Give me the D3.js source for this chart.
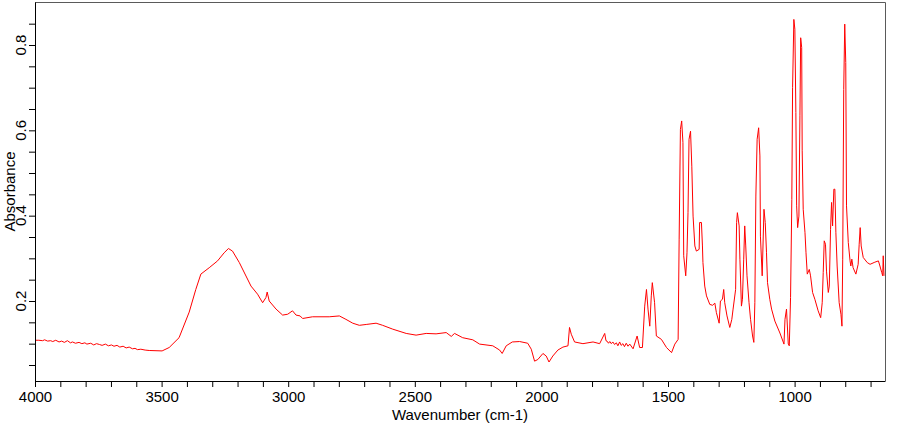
<!DOCTYPE html>
<html>
<head>
<meta charset="utf-8">
<script src="https://cdn.jsdelivr.net/npm/d3@7"></script>
<style>
  body { margin: 0; background: #fff; }
  text { font-family: Arial, "Liberation Sans", sans-serif; }
</style>
</head>
<body>
<svg id="chart" width="900" height="425"></svg>
<script>
// spectrum, split by region (wavenumber cm-1 / absorbance)
var wnBase = [4000, 3985, 3970, 3962, 3950, 3938, 3930, 3918, 3905, 3895, 3884, 3872, 3860, 3852, 3840, 3826, 3815, 3803, 3795, 3780, 3768, 3757, 3745, 3735, 3722, 3710, 3698, 3688, 3676, 3665, 3652, 3640, 3628, 3615, 3605, 3595, 3582, 3565, 3549];
var absBase = [0.108, 0.108, 0.107, 0.109, 0.106, 0.107, 0.105, 0.108, 0.104, 0.106, 0.103, 0.107, 0.102, 0.104, 0.101, 0.103, 0.100, 0.102, 0.099, 0.101, 0.097, 0.100, 0.098, 0.096, 0.099, 0.095, 0.097, 0.094, 0.096, 0.092, 0.094, 0.090, 0.092, 0.088, 0.089, 0.086, 0.087, 0.085, 0.084];

var wnOH = [3498, 3470, 3431, 3391, 3365, 3345, 3312, 3279, 3253, 3236, 3220, 3193, 3147, 3121, 3101, 3088, 3083, 3075, 3048, 3022, 3002, 2983, 2969, 2953, 2943, 2904, 2838];
var absOH = [0.083, 0.091, 0.114, 0.174, 0.227, 0.263, 0.278, 0.294, 0.313, 0.323, 0.317, 0.290, 0.235, 0.216, 0.196, 0.208, 0.221, 0.200, 0.181, 0.167, 0.169, 0.177, 0.167, 0.165, 0.159, 0.163, 0.163];

var wnMid = [2798, 2772, 2745, 2719, 2692, 2653, 2627, 2587, 2534, 2495, 2455, 2416, 2376, 2356, 2343, 2311, 2271, 2244, 2192, 2165, 2155, 2139, 2115, 2086, 2054, 2040, 2027, 2014, 1994, 1981, 1970, 1955, 1935, 1915, 1895, 1889, 1882, 1869, 1836, 1796, 1770, 1750, 1745, 1741, 1735, 1730, 1724, 1718, 1711, 1704, 1698, 1691, 1685, 1678, 1672, 1665, 1658, 1651];
var absMid = [0.165, 0.157, 0.148, 0.143, 0.145, 0.148, 0.143, 0.134, 0.124, 0.120, 0.124, 0.123, 0.126, 0.117, 0.124, 0.114, 0.109, 0.099, 0.095, 0.085, 0.077, 0.095, 0.104, 0.105, 0.101, 0.087, 0.059, 0.063, 0.077, 0.071, 0.057, 0.071, 0.085, 0.092, 0.095, 0.138, 0.122, 0.104, 0.100, 0.104, 0.100, 0.124, 0.107, 0.106, 0.101, 0.105, 0.100, 0.104, 0.098, 0.102, 0.095, 0.104, 0.096, 0.100, 0.093, 0.101, 0.094, 0.099];

var wnCH = [1638, 1622, 1612, 1601, 1592, 1585, 1579, 1572, 1566, 1562, 1553, 1546, 1526, 1506, 1486, 1473, 1460, 1456, 1451, 1446, 1441, 1438, 1430, 1425, 1421, 1417, 1411, 1406, 1401, 1394, 1388, 1377, 1375, 1368];
var absCH = [0.088, 0.118, 0.091, 0.091, 0.188, 0.227, 0.181, 0.141, 0.212, 0.243, 0.196, 0.118, 0.110, 0.091, 0.079, 0.099, 0.110, 0.345, 0.602, 0.622, 0.571, 0.306, 0.259, 0.313, 0.407, 0.579, 0.598, 0.516, 0.399, 0.329, 0.317, 0.321, 0.384, 0.384];

var wnFp1 = [1364, 1362, 1355, 1348, 1335, 1324, 1315, 1309, 1298, 1293, 1285, 1280, 1276, 1267, 1256, 1248, 1243, 1233, 1229, 1226, 1219, 1216, 1210, 1206, 1201, 1197, 1193, 1188, 1180, 1174, 1166, 1161, 1157, 1153, 1148, 1142, 1137, 1135, 1128, 1121, 1116, 1111, 1107, 1098, 1091, 1078, 1058];
var absFp1 = [0.329, 0.290, 0.235, 0.212, 0.192, 0.190, 0.195, 0.173, 0.148, 0.200, 0.204, 0.227, 0.196, 0.165, 0.138, 0.157, 0.181, 0.227, 0.384, 0.407, 0.376, 0.298, 0.188, 0.204, 0.298, 0.376, 0.329, 0.259, 0.196, 0.157, 0.118, 0.103, 0.196, 0.446, 0.579, 0.606, 0.540, 0.352, 0.259, 0.415, 0.384, 0.313, 0.243, 0.204, 0.181, 0.153, 0.125];

var wnFp2 = [1042, 1038, 1032, 1025, 1021, 1016, 1011, 1008, 1003, 999, 995, 992, 988, 983, 979, 976, 972, 970, 966, 959, 955, 950, 942, 937, 929, 920, 907, 897, 891, 887, 883, 878, 874, 867, 863, 858, 854, 850, 845, 841, 837, 832, 824, 817, 813, 810, 806, 802, 798, 795, 788, 781, 778, 774, 769, 758, 749, 745, 741, 737, 729, 713, 702, 683, 669, 663, 656, 652, 650, 647];
var absFp2 = [0.099, 0.157, 0.181, 0.099, 0.095, 0.208, 0.438, 0.700, 0.860, 0.837, 0.642, 0.423, 0.372, 0.399, 0.634, 0.817, 0.794, 0.552, 0.415, 0.360, 0.313, 0.263, 0.274, 0.259, 0.220, 0.204, 0.177, 0.161, 0.196, 0.267, 0.341, 0.333, 0.270, 0.220, 0.235, 0.368, 0.431, 0.376, 0.462, 0.462, 0.360, 0.282, 0.196, 0.169, 0.141, 0.298, 0.696, 0.849, 0.759, 0.423, 0.337, 0.294, 0.282, 0.298, 0.278, 0.263, 0.286, 0.333, 0.372, 0.329, 0.302, 0.290, 0.286, 0.291, 0.294, 0.282, 0.267, 0.259, 0.306, 0.259];

var xTickLabels = [4000, 3500, 3000, 2500, 2000, 1500, 1000];
var yTickLabels = [0.2, 0.4, 0.6, 0.8];

var wavenumbers = wnBase.concat(wnOH, wnMid, wnCH, wnFp1, wnFp2);
var absorbance = absBase.concat(absOH, absMid, absCH, absFp1, absFp2);
var spectrum = wavenumbers.map(function (w, i) { return { wn: w, a: absorbance[i] }; });

var svg = d3.select("#chart");
var plotL = 35, plotR = 885, plotT = 2, plotB = 381;

var x = d3.scaleLinear().domain([4000, 643]).range([plotL, plotR]);
var y = d3.scaleLinear().domain([0.0125, 0.9008]).range([plotB, plotT]);

svg.append("defs").append("clipPath").attr("id", "plotclip")
  .append("rect").attr("x", plotL).attr("y", plotT).attr("width", plotR - plotL).attr("height", plotB - plotT);

// frame (top / right) in gray
svg.append("path")
  .attr("d", "M" + plotL + "," + (plotT + 0.5) + "H" + (plotR + 0.5) + "V" + plotB)
  .attr("fill", "none").attr("stroke", "#5a5a5a").attr("stroke-width", 1);

var line = d3.line().x(function (d) { return x(d.wn); }).y(function (d) { return y(d.a); });

svg.append("path")
  .datum(spectrum)
  .attr("clip-path", "url(#plotclip)")
  .attr("d", line)
  .attr("fill", "none")
  .attr("stroke", "#ff0000")
  .attr("stroke-width", 1);

// x axis: ticks every 100, labels every 500
var xAxis = d3.axisBottom(x)
  .tickValues(d3.range(4000, 643, -100))
  .tickSize(6)
  .tickSizeOuter(0)
  .tickPadding(4)
  .tickFormat(function (d) { return xTickLabels.indexOf(d) >= 0 ? d : ""; });

var gx = svg.append("g").attr("transform", "translate(0," + plotB + ")").call(xAxis);
gx.attr("font-size", 15).attr("font-family", "Arial, 'Liberation Sans', sans-serif");
gx.selectAll("text").attr("fill", "#000");
gx.selectAll("line, path").attr("stroke", "#000");

// y axis: ticks every 0.05, rotated labels every 0.2
var yAxis = d3.axisLeft(y)
  .tickValues(d3.range(1, 18).map(function (i) { return i * 0.05; }))
  .tickSize(6)
  .tickSizeOuter(0)
  .tickFormat("");

var gy = svg.append("g").attr("transform", "translate(" + plotL + ",0)").call(yAxis);
gy.selectAll("line, path").attr("stroke", "#000");

svg.append("g").selectAll("text")
  .data(yTickLabels)
  .enter().append("text")
  .attr("transform", function (d) { return "translate(26," + y(d) + ") rotate(-90)"; })
  .attr("text-anchor", "middle")
  .attr("font-size", 15)
  .attr("fill", "#000")
  .text(function (d) { return d; });

svg.append("text")
  .attr("transform", "translate(15," + ((plotT + plotB) / 2) + ") rotate(-90)")
  .attr("text-anchor", "middle")
  .attr("font-size", 15)
  .attr("fill", "#000")
  .text("Absorbance");

svg.append("text")
  .attr("x", (plotL + plotR) / 2)
  .attr("y", 420)
  .attr("text-anchor", "middle")
  .attr("font-size", 15)
  .attr("fill", "#000")
  .text("Wavenumber (cm-1)");
</script>
</body>
</html>
